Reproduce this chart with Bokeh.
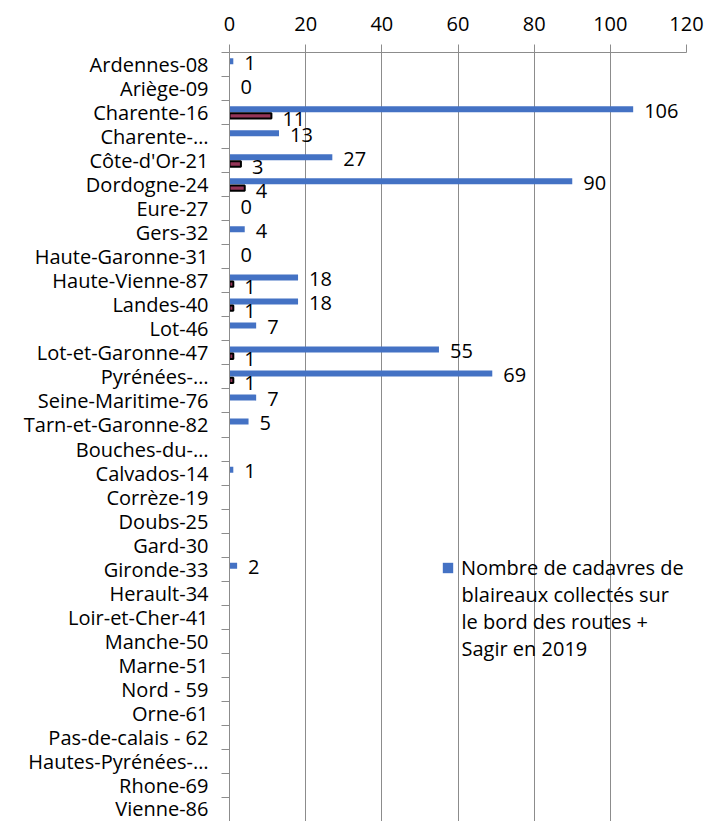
from bokeh.plotting import figure
from bokeh.models import (Range1d, FixedTicker, ColumnDataSource, LabelSet, Legend,
                          LegendItem, Label)
from bokeh.core.properties import value
from bokeh.embed import file_html
from bokeh.resources import INLINE

departements = [
    "Ardennes-08", "Ariège-09", "Charente-16", "Charente-…", "Côte-d'Or-21",
    "Dordogne-24", "Eure-27", "Gers-32", "Haute-Garonne-31", "Haute-Vienne-87",
    "Landes-40", "Lot-46", "Lot-et-Garonne-47", "Pyrénées-…", "Seine-Maritime-76",
    "Tarn-et-Garonne-82", "Bouches-du-…", "Calvados-14", "Corrèze-19", "Doubs-25",
    "Gard-30", "Gironde-33", "Herault-34", "Loir-et-Cher-41", "Manche-50",
    "Marne-51", "Nord - 59", "Orne-61", "Pas-de-calais - 62", "Hautes-Pyrénées-…",
    "Rhone-69", "Vienne-86",
]
# blue series: badger carcasses collected on roadsides + Sagir 2019
cadavres_2019 = [1, 0, 106, 13, 27, 90, 0, 4, 0, 18, 18, 7, 55, 69, 7, 5,
                 None, 1, None, None, None, 2, None, None, None, None, None,
                 None, None, None, None, None]
# second (magenta) series
second_serie = [None, None, 11, None, 3, 4, None, None, None, 1, 1, None, 1, 1,
                None, None, None, None, None, None, None, None, None, None, None,
                None, None, None, None, None, None, None]
x_ticks = [0, 20, 40, 60, 80, 100, 120]
legend_lines = ["Nombre de cadavres de", "blaireaux collectés sur",
                "le bord des routes +", "Sagir en 2019"]

FONT = "Open Sans"
FS = "20px"
GRAY = "#8C8C8C"
BLUE = "#4472C4"
RED = "#953558"

n = len(departements)

p = figure(width=704, height=821, output_backend="svg", toolbar_location=None,
           x_range=Range1d(0, 120), y_range=Range1d(n, 0),
           x_axis_location="above", min_border_left=229, min_border_right=18,
           min_border_top=52, min_border_bottom=0)
p.outline_line_color = None
p.background_fill_color = "white"
p.border_fill_color = "white"

# x axis (top)
xa = p.xaxis[0]
xa.ticker = FixedTicker(ticks=x_ticks, minor_ticks=[])
xa.axis_line_color = GRAY
xa.major_tick_line_color = GRAY
xa.major_tick_out = 8
xa.major_tick_in = 0
xa.minor_tick_line_color = None
xa.major_label_text_font = FONT
xa.major_label_text_font_size = FS
xa.major_label_text_color = "black"
xa.major_label_standoff = 14

# y axis (left), labels at row centres, ticks at row boundaries
ya = p.yaxis[0]
centers = [i + 0.5 for i in range(n)]
ya.ticker = FixedTicker(ticks=centers, minor_ticks=list(range(n + 1)))
ya.major_label_overrides = {c: d for c, d in zip(centers, departements)}
ya.axis_line_color = GRAY
ya.major_tick_line_color = None
ya.major_tick_out = 0
ya.major_tick_in = 0
ya.minor_tick_line_color = GRAY
ya.minor_tick_out = 8
ya.minor_tick_in = 0
ya.major_label_text_font = FONT
ya.major_label_text_font_size = FS
ya.major_label_text_color = "black"
ya.major_label_standoff = 13

p.xgrid.ticker = FixedTicker(ticks=x_ticks)
p.xgrid.grid_line_color = GRAY
p.ygrid.grid_line_color = None

# sources
b_y = [i + 0.5 - 0.14 for i, v in enumerate(cadavres_2019) if v is not None]
b_v = [v for v in cadavres_2019 if v is not None]
src_b = ColumnDataSource(dict(y=b_y, v=b_v, ly=[y + 0.06 for y in b_y],
                              t=[str(v) for v in b_v]))
r_y = [i + 0.5 + 0.14 for i, v in enumerate(second_serie) if v is not None]
r_v = [v for v in second_serie if v is not None]
src_r = ColumnDataSource(dict(y=r_y, v=r_v, ly=[y + 0.12 for y in r_y],
                              t=[str(v) for v in r_v]))

rb = p.hbar(y="y", left=0, right="v", height=0.25, source=src_b,
            fill_color=BLUE, line_color=None)
rr = p.hbar(y="y", left=0, right="v", height=0.22, source=src_r,
            fill_color=RED, line_color="black", line_width=2)

for src in (src_b, src_r):
    p.add_layout(LabelSet(x="v", y="ly", text="t", source=src, x_offset=11,
                          text_font=value(FONT), text_font_size=value(FS),
                          text_color="black", text_baseline="middle",
                          text_align="left"))

legend = Legend(items=[LegendItem(label=legend_lines[0], renderers=[rb])],
                location=(212, 240), padding=0, margin=0,
                border_line_color=None, background_fill_alpha=0,
                glyph_width=13, glyph_height=13, label_standoff=7,
                label_text_font=FONT, label_text_font_size=FS,
                label_text_color="black")
p.add_layout(legend, "center")
p.add_layout(Label(x=60.92, y=22.01, text="\n".join(legend_lines[1:]),
                   text_font=FONT, text_font_size=FS, text_color="black",
                   text_baseline="top", text_align="left",
                   text_line_height=1.0))

open("out.html", "w").write(file_html(p, INLINE))
